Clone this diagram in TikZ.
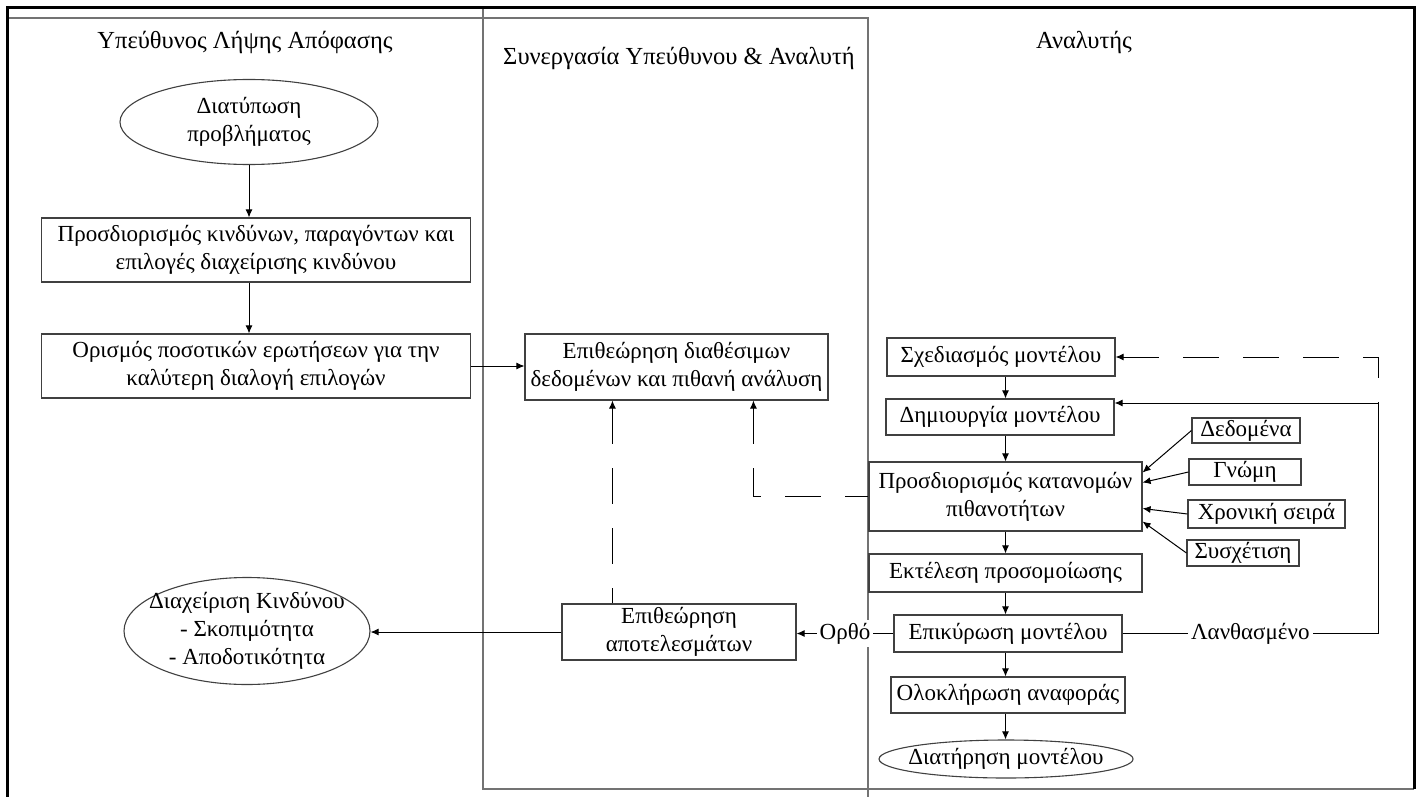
\documentclass[tikz,border=0pt]{standalone}
\usepackage{fontspec}
\setmainfont{Liberation Serif}
\usetikzlibrary{shapes.geometric,arrows.meta}
\definecolor{boxgray}{gray}{0.25}
\definecolor{lanegray}{gray}{0.45}

\begin{document}
\begin{tikzpicture}
[
    x=1pt, y=-1pt,
    >={Latex[length=8pt,width=7pt]},
    every node/.style={font=\fontsize{23}{28}\selectfont, align=center},
    box/.style={draw=boxgray, line width=1.1pt, inner sep=1.5pt},
    oval/.style={draw=boxgray, line width=1.1pt, ellipse, inner sep=0pt},
    lane/.style={draw=lanegray, line width=1.4pt},
    frame/.style={draw=black, line width=3pt},
    lanetitle/.style={font=\fontsize{24.5}{30}\selectfont},
    tag/.style={fill=white, inner sep=3pt},
    link/.style={->, line width=1pt},
    dashlink/.style={<-, line width=1pt, dash pattern=on 36pt off 24pt},
]
\useasboundingbox (0,0) rectangle (1423,797);

\draw[lane] (8,18) -- (868,18) -- (868,797);
\draw[lane] (483,8) -- (483,789) -- (1414,789);
\draw[frame] (7.5,797) -- (7.5,8) -- (1414,8) -- (1414,789);

\node[lanetitle] (tdm) at (245,42) {Υπεύθυνος Λήψης Απόφασης};
\node[lanetitle] (tco) at (679,58) {Συνεργασία Υπεύθυνου \& Αναλυτή};
\node[lanetitle] (tan) at (1084,42) {Αναλυτής};

\node[oval, minimum width=258pt, minimum height=85pt] (form) at (249,122)
    {Διατύπωση\\προβλήματος};
\node[box, minimum width=429pt, minimum height=64pt] (risk) at (256,250)
    {Προσδιορισμός κινδύνων, παραγόντων και\\επιλογές διαχείρισης κινδύνου};
\node[box, minimum width=429pt, minimum height=64pt] (quest) at (256,366)
    {Ορισμός ποσοτικών ερωτήσεων για την\\καλύτερη διαλογή επιλογών};
\node[oval, minimum width=246pt, minimum height=107pt,
    label={center:Διαχείριση Κινδύνου\\- Σκοπιμότητα\\- Αποδοτικότητα}] (manage) at (247,631) {};

\node[box, minimum width=303pt, minimum height=66pt] (review) at (676.5,367)
    {Επιθεώρηση διαθέσιμων\\δεδομένων και πιθανή ανάλυση};
\node[box, minimum width=234pt, minimum height=56pt] (results) at (679,632)
    {Επιθεώρηση\\αποτελεσμάτων};

\node[box, minimum width=228pt, minimum height=38pt] (design) at (1001,357) {Σχεδιασμός μοντέλου};
\node[box, minimum width=228pt, minimum height=36pt] (build) at (1000,417) {Δημιουργία μοντέλου};
\node[box, minimum width=273pt, minimum height=69pt] (distr) at (1005.5,496.5)
    {Προσδιορισμός κατανομών\\πιθανοτήτων};
\node[box, minimum width=273pt, minimum height=38pt] (simul) at (1005.5,573) {Εκτέλεση προσομοίωσης};
\node[box, minimum width=228pt, minimum height=37pt] (valid) at (1008,633.5) {Επικύρωση μοντέλου};
\node[box, minimum width=234pt, minimum height=36pt] (report) at (1008,695) {Ολοκλήρωση αναφοράς};
\node[oval, minimum width=254pt, minimum height=38pt,
    label={center:Διατήρηση μοντέλου}] (maint) at (1006,759) {};

\node[box, minimum width=108pt, minimum height=25pt] (data) at (1246,430.5) {Δεδομένα};
\node[box, minimum width=112pt, minimum height=26pt] (opinion) at (1245,472) {Γνώμη};
\node[box, minimum width=157pt, minimum height=28pt] (series) at (1266.5,514) {Χρονική σειρά};
\node[box, minimum width=112pt, minimum height=26pt] (corr) at (1243,553) {Συσχέτιση};

\coordinate (r1) at ([xshift=51pt]results.north west);
\coordinate (bend) at ([xshift=-115pt]distr.west);
\coordinate (turn) at (1378,403);

\draw[link] (form.south) -- (form.south |- risk.north);
\draw[link] (form.south |- risk.south) -- (form.south |- quest.north);
\draw[link] (quest.east) -- (quest.east -| review.west);
\draw[link] (results.west) -- (results.west -| manage.east);
\draw[dashlink] (r1 |- review.south) -- (r1);
\draw[dashlink] (bend |- review.south) -- (bend) -- (distr.west);

\draw[link] (design.south -| distr) -- (build.north -| distr);
\draw[link] (build.south -| distr) -- (distr.north);
\draw[link] (distr.south) -- (simul.north);
\draw[link] (simul.south) -- (valid.north -| simul);
\draw[link] (valid.south -| simul) -- (report.north -| simul);
\draw[link] (report.south -| simul) -- (maint.north -| simul);

\draw[link] (data.west) -- ([yshift=24pt]distr.east);
\draw[link] (opinion.west) -- ([yshift=14pt]distr.east);
\draw[link] (series.west) -- ([yshift=-12pt]distr.east);
\draw[link] (corr.west) -- ([yshift=-25pt]distr.east);

\draw[link] (valid.west) -- node[tag] {Ορθό} (valid.west -| results.east);
\draw[link] (valid.east) -- node[tag] {Λανθασμένο} (valid.east -| turn)
    -- (turn) -- (turn -| build.east);
\draw[dashlink] (design.east) -- (design.east -| turn) -- (turn);
\end{tikzpicture}
\end{document}
